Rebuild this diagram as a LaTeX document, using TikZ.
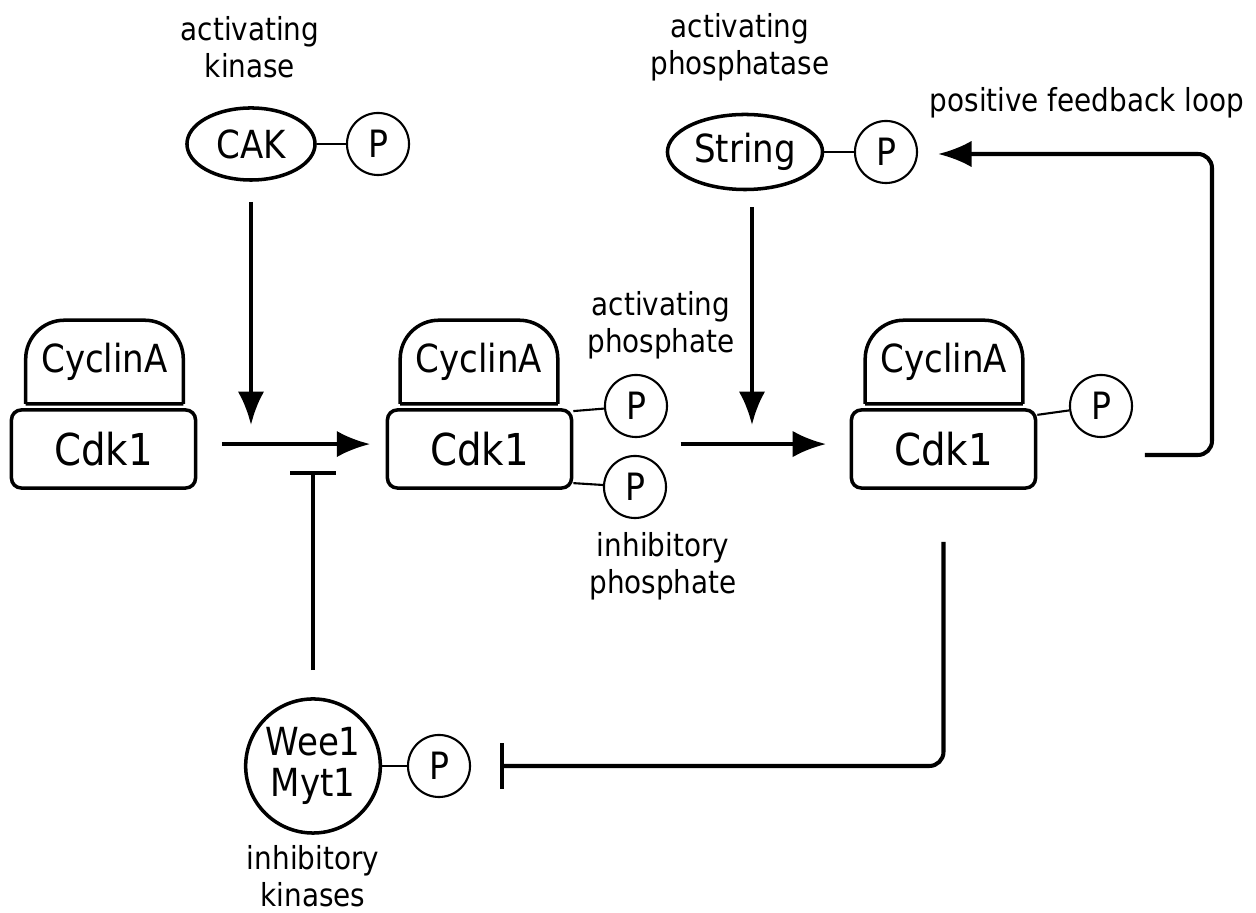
\documentclass[tikz,border=0pt]{standalone}
\usepackage{fontspec}
\setmainfont{DejaVu Sans}[FakeStretch=0.88]
\usetikzlibrary{shapes.geometric}
\usetikzlibrary{arrows.meta}

\begin{document}
\begin{tikzpicture}
[x=0.01cm,y=-0.01cm,line width=1pt,%
  every node/.style={inner sep=0pt,font=\fontsize{11}{11.5}\selectfont},%
  note/.style={align=center,font=\fontsize{9}{10.5}\selectfont},%
  cdk/.style={draw,rounded corners=2.8pt,minimum width=1.84cm,minimum height=0.78cm,%
    font=\fontsize{12.5}{14}\selectfont},%
  cyclin/.style={minimum width=1.54cm,minimum height=0.8cm},%
  kinase/.style={draw,ellipse},%
  phos/.style={draw,circle,line width=0.6pt,minimum size=0.62cm,%
    font=\fontsize{10.7}{12}\selectfont},%
  act/.style={-{Latex[length=9.5pt,width=7.5pt]},line width=1.15pt},%
  inh/.style={-{Bar[width=13pt]},line width=1.15pt}]
\useasboundingbox (0,0) rectangle (1256,913);
%% complexes
\node[cyclin] (cycL) at (104.5,362) {CyclinA};
\node[cdk] (cdkL) at (103.5,449) {Cdk1};
\node[cyclin] (cycM) at (479,362) {CyclinA};
\node[cdk] (cdkM) at (479.5,449) {Cdk1};
\node[cyclin] (cycR) at (944,362) {CyclinA};
\node[cdk] (cdkR) at (943.5,449) {Cdk1};
\foreach \c in {cycL,cycM,cycR}
{
  \draw (\c.south west) -- (\c.south east)
    (\c.south west) [rounded corners=11pt] -- (\c.north west) -- (\c.north east) -- (\c.south east);
}
%% phosphates on Cdk1
\node[phos] (pAct) at (636,406) {P};
\node[phos] (pInh) at (635,487) {P};
\node[phos] (pRight) at (1101,406) {P};
%% kinases and phosphatase
\node[kinase,minimum width=1.28cm,minimum height=0.72cm] (cak) at (251,144) {CAK};
\node[phos] (pCak) at (378,144) {P};
\node[kinase,minimum width=1.55cm,minimum height=0.75cm] (str) at (745,152) {String};
\node[phos] (pStr) at (886,152) {P};
\node[kinase,align=center,minimum width=1.29cm,minimum height=1.34cm] (wee) at (313,766) {Wee1\\Myt1};
\node[phos] (pWee) at (439,766) {P};
%% labels
\node[note] (lblCak) at (250,47) {activating\\kinase};
\node[note] (lblStr) at (740,47) {activating\\phosphatase};
\node[note] (lblLoop) at (1087,103) {positive feedback loop};
\node[note] (lblAct) at (661,325) {activating\\phosphate};
\node[note] (lblInh) at (663,566) {inhibitory\\phosphate};
\node[note] (lblWee) at (313,876) {inhibitory\\kinases};
%% free ends
\coordinate (cakTip) at (251,425);
\coordinate (strTip) at (752,425);
\coordinate (weeTip) at (313,471);
\coordinate (cdkBar) at (500,766);
\coordinate (loopStart) at (1145,455);
\coordinate (loopTop) at (1212,154);
%% connectors
\path[line width=0.6pt]
\foreach \startNode/\endNode in {cak/pCak, str/pStr, wee/pWee, cdkM.22/pAct, cdkM.-20/pInh, cdkR.20/pRight}
{
  (\startNode) edge (\endNode)
};
\draw[act,shorten <=7pt,shorten >=4.4pt] ([yshift=1.4pt]cdkL.east) -- ([yshift=1.4pt]cdkM.west);
\draw[act,shorten <=30.5pt,shorten >=6.7pt] ([yshift=1.4pt]cdkM.east) -- ([yshift=1.4pt]cdkR.west);
\draw[act,shorten <=5.7pt] (cak.south) -- (cakTip);
\draw[act,shorten <=4.5pt] (str.south -| strTip) -- (strTip);
\draw[inh,shorten <=7.7pt] (wee.north) -- (weeTip);
\draw[inh,rounded corners=4pt,shorten <=14.8pt] (cdkR.south) |- (cdkBar);
\draw[act,rounded corners=4pt,shorten >=5.7pt] (loopStart) -| (loopTop) -- (loopTop -| pStr.east);
\end{tikzpicture}
\end{document}
